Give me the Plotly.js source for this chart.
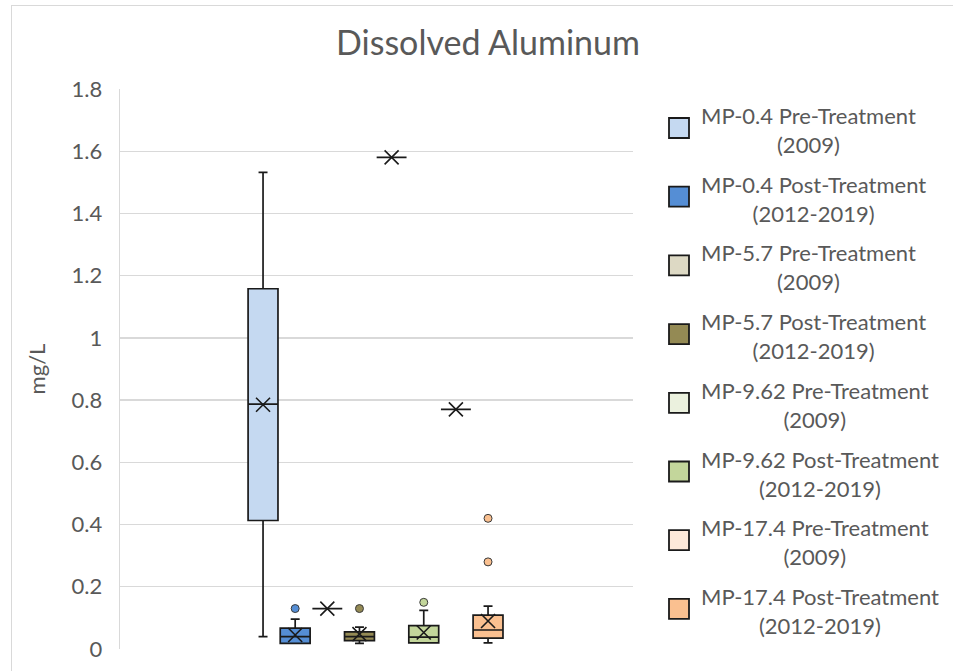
<!DOCTYPE html>
<html>
<head>
<meta charset="utf-8">
<script src="https://cdn.plot.ly/plotly-3.0.1.min.js"></script>
<style>
  html, body { margin: 0; padding: 0; background: #ffffff; }
  #chart { width: 953px; height: 671px; position: absolute; left: 0; top: 0; }
  #frame { position: absolute; left: 11px; top: 5px; width: 942px; height: 666px;
           border-left: 1px solid #d9d9d9; border-top: 1px solid #d9d9d9;
           pointer-events: none; z-index: 5; box-sizing: border-box; }
</style>
</head>
<body>
<div id="chart"></div>
<div id="frame"></div>
<script>
// ---- Data ----
const seriesNames = [
  "MP-0.4 Pre-Treatment (2009)",
  "MP-0.4 Post-Treatment (2012-2019)",
  "MP-5.7 Pre-Treatment (2009)",
  "MP-5.7 Post-Treatment (2012-2019)",
  "MP-9.62 Pre-Treatment (2009)",
  "MP-9.62 Post-Treatment (2012-2019)",
  "MP-17.4 Pre-Treatment (2009)",
  "MP-17.4 Post-Treatment (2012-2019)"
];
const legendLine1 = [
  "MP-0.4 Pre-Treatment", "MP-0.4 Post-Treatment",
  "MP-5.7 Pre-Treatment", "MP-5.7 Post-Treatment",
  "MP-9.62 Pre-Treatment", "MP-9.62 Post-Treatment",
  "MP-17.4 Pre-Treatment", "MP-17.4 Post-Treatment"
];
const legendLine2 = ["(2009)", "(2012-2019)", "(2009)", "(2012-2019)",
                     "(2009)", "(2012-2019)", "(2009)", "(2012-2019)"];

const lowerWhisker = [0.04,  0.018, 0.13, 0.018, 1.58, 0.02,  0.77, 0.02];
const q1Values     = [0.413, 0.018, 0.13, 0.027, 1.58, 0.02,  0.77, 0.035];
const medianValues = [0.787, 0.04,  0.13, 0.04,  1.58, 0.038, 0.77, 0.061];
const q3Values     = [1.158, 0.067, 0.13, 0.055, 1.58, 0.075, 0.77, 0.109];
const upperWhisker = [1.532, 0.096, 0.13, 0.07,  1.58, 0.124, 0.77, 0.138];
const meanValues   = [0.785, 0.045, 0.13, 0.048, 1.58, 0.053, 0.77, 0.09];
const outlierValues = [[], [0.13], [], [0.13], [], [0.15], [], [0.28, 0.42]];

const yTickValues = [0, 0.2, 0.4, 0.6, 0.8, 1, 1.2, 1.4, 1.6, 1.8];
const yTickLabels = ["0", "0.2", "0.4", "0.6", "0.8", "1", "1.2", "1.4", "1.6", "1.8"];

// ---- Styles ----
const fillColors = ["#C5D9F1", "#558ED5", "#DDD9C4", "#948A54",
                    "#EBF1DE", "#C3D69B", "#FDE9D9", "#FAC090"];
const FONT = "Lato, 'Open Sans', sans-serif";
const TEXT = "#595959";
const LINE = "#1a1a1a";

// plot area in pixels (for legend placement in paper coordinates)
const L = 120, R = 633, T = 89, B = 649;
const px2x = p => (p - L) / (R - L);
const px2y = p => (B - p) / (B - T);

const traces = [];
seriesNames.forEach((name, i) => {
  traces.push({
    type: "box",
    name: name,
    x: [i],
    q1: [q1Values[i]],
    median: [medianValues[i]],
    q3: [q3Values[i]],
    lowerfence: [lowerWhisker[i]],
    upperfence: [upperWhisker[i]],
    width: 0.93,
    whiskerwidth: 0.3,
    fillcolor: fillColors[i],
    line: { color: LINE, width: 1.7 },
    boxpoints: false,
    showlegend: false,
    hoverinfo: "y"
  });
});
// outliers
seriesNames.forEach((name, i) => {
  if (outlierValues[i].length) {
    traces.push({
      type: "scatter", mode: "markers",
      x: outlierValues[i].map(() => i),
      y: outlierValues[i],
      marker: { symbol: "circle", size: 8, color: fillColors[i],
                line: { color: "#3a3a3a", width: 1 } },
      showlegend: false, hoverinfo: "y", cliponaxis: false
    });
  }
});
// means
traces.push({
  type: "scatter", mode: "markers",
  x: meanValues.map((v, i) => i),
  y: meanValues,
  marker: { symbol: "x-thin-open", size: 14, color: LINE,
            line: { color: LINE, width: 1.6 } },
  showlegend: false, hoverinfo: "y", cliponaxis: false
});

// custom legend (text block left-aligned, lines centered within the block)
const shapes = [];
const annotations = [];
const squareHalf = 10;
seriesNames.forEach((name, i) => {
  const cy = 128 + 68.7 * i;
  shapes.push({
    type: "rect", xref: "paper", yref: "paper",
    x0: px2x(669), x1: px2x(669 + 2 * squareHalf),
    y0: px2y(cy + squareHalf), y1: px2y(cy - squareHalf),
    fillcolor: fillColors[i], line: { color: LINE, width: 1.8 }
  });
  annotations.push({
    xref: "paper", yref: "paper",
    x: px2x(699), y: px2y(cy + 2),
    xanchor: "left", yanchor: "middle", align: "center",
    text: legendLine1[i] + "<br>" + legendLine2[i],
    showarrow: false,
    font: { family: FONT, size: 22, color: TEXT }
  });
});

const layout = {
  width: 953, height: 671,
  margin: { l: L, r: 953 - R, t: T, b: 671 - B, pad: 0 },
  paper_bgcolor: "#ffffff", plot_bgcolor: "#ffffff",
  title: {
    text: "Dissolved Aluminum",
    font: { family: FONT, size: 34, color: TEXT },
    x: 488 / 953, xref: "container", xanchor: "center",
    y: 1 - 43 / 671, yref: "container", yanchor: "middle"
  },
  xaxis: {
    range: [-4.45, 11.51], showgrid: false, zeroline: false,
    showticklabels: false, ticks: "", showline: false, fixedrange: true
  },
  yaxis: {
    range: [0, 1.8], tickvals: yTickValues, ticktext: yTickLabels,
    showgrid: true, gridcolor: "#d9d9d9", gridwidth: 1.3,
    zeroline: false, showline: true, linecolor: "#d9d9d9", linewidth: 1.3,
    ticks: "", ticklabelstandoff: 12,
    tickfont: { family: FONT, size: 22, color: TEXT },
    title: { text: "mg/L", standoff: 20, font: { family: FONT, size: 22, color: TEXT } }
  },
  boxmode: "overlay",
  showlegend: false,
  shapes: shapes,
  annotations: annotations
};

Plotly.newPlot("chart", traces, layout, { displayModeBar: false, staticPlot: true });
</script>
</body>
</html>
